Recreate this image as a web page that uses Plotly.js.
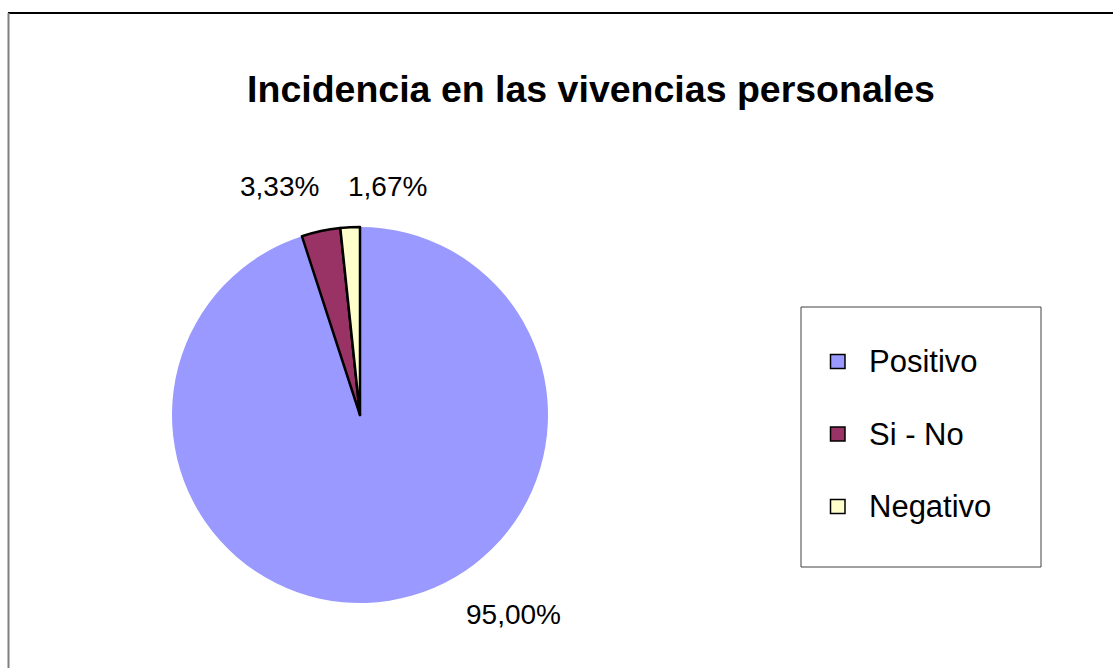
<!DOCTYPE html>
<html>
<head>
<meta charset="utf-8">
<script src="https://cdn.plot.ly/plotly-3.0.1.min.js"></script>
<style>html,body{margin:0;padding:0;background:#fff;}#chart{width:1113px;height:668px;}</style>
</head>
<body>
<div id="chart"></div>
<script>
// ---- data ----
const categories = ["Positivo", "Si - No", "Negativo"];
const values = [95.00, 3.33, 1.67];
const chartTitle = "Incidencia en las vivencias personales";

// ---- styles ----
const sliceColors = ["#9999FF", "#993366", "#FFFFCC"];
const FONT = "Liberation Sans, Arial, Helvetica, sans-serif";
const W = 1113, H = 668;
const px = x => x / W;
const py = y => 1 - y / H;

function fmtPct(v) {
  const total = values.reduce((a, b) => a + b, 0);
  return (v / total * 100).toFixed(2).replace('.', ',') + '%';
}

const cx = 360, cy = 415, r = 188;

const trace = {
  type: 'pie',
  labels: categories,
  values: values,
  sort: false,
  direction: 'clockwise',
  rotation: 0,
  textinfo: 'none',
  hoverinfo: 'label+percent',
  showlegend: false,
  marker: {
    colors: sliceColors,
    line: {color: '#000000', width: [0, 2.5, 2.5]}
  },
  domain: {x: [px(cx - r), px(cx + r)], y: [py(cy + r), py(cy - r)]}
};

// data labels positions (Excel-like placement)
const labelPos = [[513, 614], [279, 186.5], [387, 186.5]];
const annotations = categories.map((c, i) => ({
  x: px(labelPos[i][0]), y: py(labelPos[i][1]), xref: 'paper', yref: 'paper',
  text: fmtPct(values[i]), showarrow: false, xanchor: 'center', yanchor: 'middle',
  font: {family: FONT, size: 28, color: '#000'}
}));

// legend (manual, from categories/colors)
const legTop = 361.5, legStep = 72.5;
const shapes = [
  // outer frame
  {type: 'line', xref: 'paper', yref: 'paper', x0: px(8), x1: 1.01, y0: py(13), y1: py(13), line: {color: '#000', width: 2}},
  {type: 'line', xref: 'paper', yref: 'paper', x0: px(8.5), x1: px(8.5), y0: py(13), y1: -0.01, line: {color: '#808080', width: 2}},
  // legend box
  {type: 'rect', xref: 'paper', yref: 'paper', x0: px(801), x1: px(1041), y0: py(567), y1: py(307), line: {color: '#404040', width: 1}, fillcolor: 'rgba(0,0,0,0)'}
];
categories.forEach((c, i) => {
  const yc = legTop + i * legStep;
  shapes.push({type: 'rect', xref: 'paper', yref: 'paper',
    x0: px(830.5), x1: px(845), y0: py(yc + 7), y1: py(yc - 7),
    fillcolor: sliceColors[i], line: {color: '#000', width: 1.5}});
  annotations.push({x: px(867), y: py(yc), xref: 'paper', yref: 'paper', text: c,
    showarrow: false, xanchor: 'left', yanchor: 'middle',
    font: {family: FONT, size: 31, color: '#000'}});
});

const layout = {
  width: W, height: H,
  margin: {l: 0, r: 0, t: 0, b: 0},
  paper_bgcolor: '#fff',
  title: {text: '<b>' + chartTitle + '</b>', font: {family: FONT, size: 37.5, color: '#000'},
    x: px(591), xanchor: 'center', xref: 'paper', y: py(89), yref: 'container', yanchor: 'middle'},
  showlegend: false,
  shapes: shapes,
  annotations: annotations
};

Plotly.newPlot('chart', [trace], layout, {staticPlot: true, displayModeBar: false});
</script>
</body>
</html>
